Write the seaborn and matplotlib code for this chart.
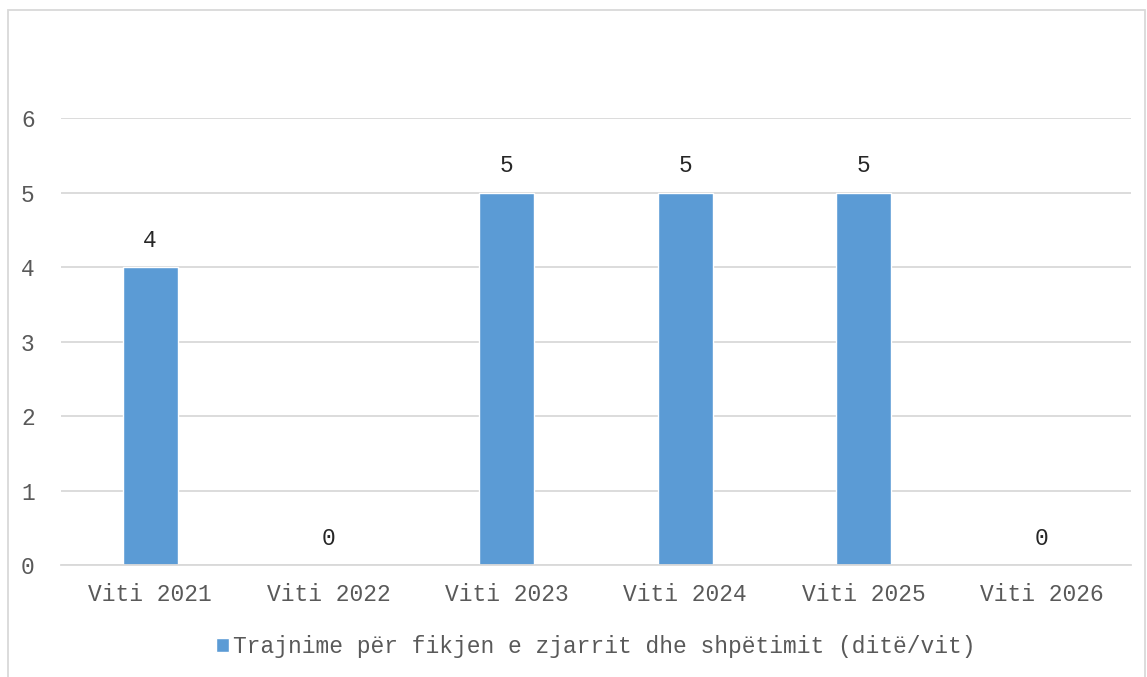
import matplotlib
matplotlib.use("Agg")
import matplotlib.pyplot as plt
import seaborn as sns
import pandas as pd

# data
years = ['Viti 2021', 'Viti 2022', 'Viti 2023', 'Viti 2024', 'Viti 2025', 'Viti 2026']
days = [4, 0, 5, 5, 5, 0]
series_name = 'Trajnime për fikjen e zjarrit dhe shpëtimit (ditë/vit)'

df = pd.DataFrame({'year': years, 'days': days})

sns.set_style('white')
plt.rcParams['font.family'] = ['Liberation Mono', 'DejaVu Sans Mono']

fig = plt.figure(figsize=(11.47, 6.77), dpi=100)
ax = fig.add_axes([0.0532, 0.1654, 0.9328, 0.6603])

sns.barplot(data=df, x='year', y='days', color='#5B9BD5', width=0.31,
            saturation=1, label=series_name, ax=ax)

ax.set_ylim(0, 6)
ax.set_yticks(range(0, 7))
ax.yaxis.grid(True, color='#D9D9D9', linewidth=1.3)
ax.set_axisbelow(True)
for s in ['top', 'right', 'left']:
    ax.spines[s].set_visible(False)
ax.spines['bottom'].set_color('#D9D9D9')
ax.spines['bottom'].set_linewidth(1.3)
ax.set_xlabel('')
ax.set_ylabel('')
ax.tick_params(axis='both', length=0, labelsize=16.5, labelcolor='#595959')
ax.tick_params(axis='x', pad=13)
ax.tick_params(axis='y', pad=19)

ax.bar_label(ax.containers[0], labels=[str(v) for v in days], padding=11,
             fontsize=16.5, color='#262626')

leg = ax.legend(loc='upper center', bbox_to_anchor=(0.5, -0.11), frameon=False,
                fontsize=16.5, handlelength=0.55, handleheight=0.55, handletextpad=0.2)
for t in leg.get_texts():
    t.set_color('#595959')

# chart border
fig.patches.append(plt.Rectangle((8 / 1147, -0.01), 1137 / 1147, 1 - 10 / 677 + 0.01,
                                 transform=fig.transFigure, fill=False,
                                 edgecolor='#D9D9D9', linewidth=1.3))

fig.savefig('out.png', dpi=100)
